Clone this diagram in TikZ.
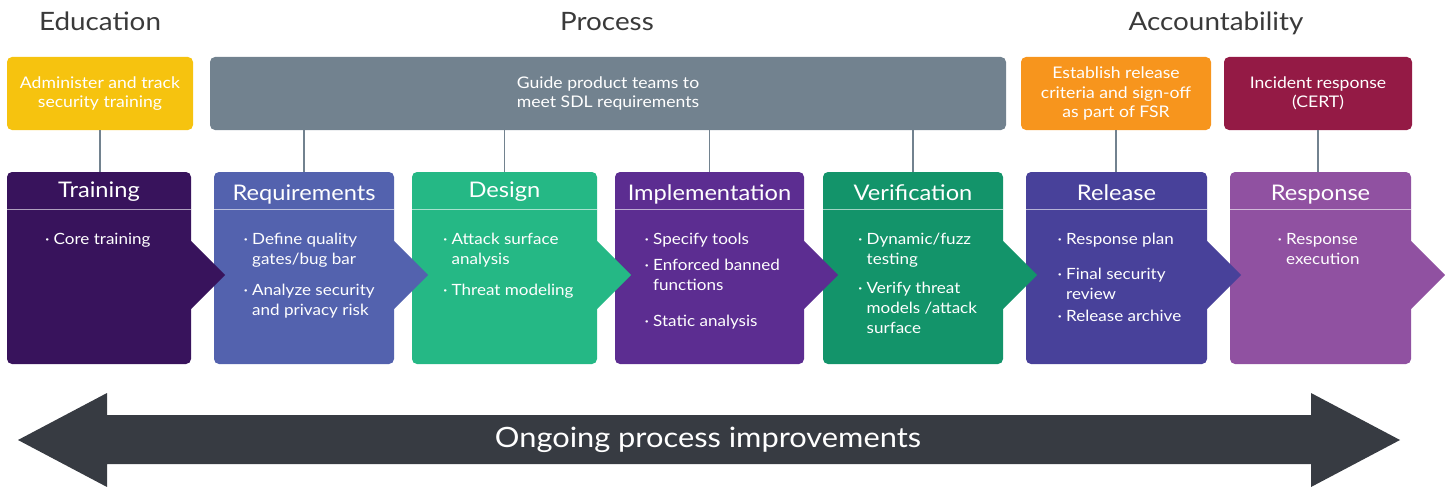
\documentclass[tikz,border=0pt]{standalone}
\usepackage{fontspec}
\setmainfont{Lato}[FakeStretch=1.1]
\definecolor{cYellow}{HTML}{F6C30F}
\definecolor{cGray}{HTML}{72828F}
\definecolor{cOrange}{HTML}{F7951D}
\definecolor{cRed}{HTML}{941A45}
\definecolor{cTrain}{HTML}{38135C}
\definecolor{cReq}{HTML}{5362AE}
\definecolor{cDesign}{HTML}{25B885}
\definecolor{cImpl}{HTML}{5C2D91}
\definecolor{cVerif}{HTML}{13946A}
\definecolor{cRel}{HTML}{48419A}
\definecolor{cResp}{HTML}{9051A1}
\definecolor{cArrow}{HTML}{373B42}
\definecolor{cTitle}{HTML}{3A3A3A}
\tikzset{
  topbox/.style={rectangle, rounded corners=5pt, inner sep=0pt, minimum height=73pt,
    text=white, align=center, font=\fontsize{16}{19.5}\selectfont},
  phasebox/.style={rectangle, rounded corners=5pt, inner sep=0pt, minimum height=192pt},
  conn/.style={draw=cGray, line width=1.4pt},
  divider/.style={draw=white, draw opacity=0.6, line width=1pt},
  title/.style={text=cTitle, font=\fontsize{25.3}{28}\selectfont, anchor=base},
  phasetitle/.style={text=white, font=\fontsize{21.5}{26}\selectfont, anchor=base},
  bodytxt/.style={text=white, font=\fontsize{15.5}{20}\selectfont, anchor=base west, inner sep=0pt},
}
\newcommand{\itm}[1]{\parbox[t]{150pt}{\hangindent=8.5pt\hangafter=1\relax\makebox[8.5pt][l]{·}#1}}
\begin{document}
\begin{tikzpicture}[x=1pt,y=-1pt]
\useasboundingbox (0,0) rectangle (1445,487);

% titles
\node[title] (tEdu) at (100,31) {Education};
\node[title] (tProc) at (607,31) {Process};
\node[title] (tAcc) at (1216,31) {Accountability};

% top boxes
\node[topbox, fill=cYellow, minimum width=186pt] (yel) at (100,93.5) {Administer and track\\security training};
\node[topbox, fill=cGray, minimum width=796pt] (gry) at (608,93.5) {Guide product teams to\\meet SDL requirements};
\node[topbox, fill=cOrange, minimum width=190pt] (org) at (1116,93.5) {Establish release\\criteria and sign-off\\as part of FSR};
\node[topbox, fill=cRed, minimum width=188pt] (red) at (1318,93.5) {Incident response\\(CERT)};

% phase boxes (right to left so chevrons overlay next box)
\node[phasebox, fill=cResp, minimum width=181pt] (resp) at (1320.5,268) {};
\fill[cResp] (1405,241) -- (1411,241) -- (1445,275) -- (1411,309) -- (1405,309) -- cycle;
\node[phasebox, fill=cRel, minimum width=181pt] (rel) at (1116.5,268) {};
\fill[cRel] (1201,241) -- (1207,241) -- (1241,275) -- (1207,309) -- (1201,309) -- cycle;
\node[phasebox, fill=cVerif, minimum width=180pt] (ver) at (913,268) {};
\fill[cVerif] (997,241) -- (1003,241) -- (1037,275) -- (1003,309) -- (997,309) -- cycle;
\node[phasebox, fill=cImpl, minimum width=189pt] (imp) at (709.5,268) {};
\fill[cImpl] (798,241) -- (804,241) -- (838,275) -- (804,309) -- (798,309) -- cycle;
\node[phasebox, fill=cDesign, minimum width=185pt] (des) at (504.5,268) {};
\fill[cDesign] (591,241) -- (597,241) -- (631,275) -- (597,309) -- (591,309) -- cycle;
\node[phasebox, fill=cReq, minimum width=180pt] (req) at (304,268) {};
\fill[cReq] (388,241) -- (394,241) -- (428,275) -- (394,309) -- (388,309) -- cycle;
\node[phasebox, fill=cTrain, minimum width=184pt] (trn) at (99,268) {};
\fill[cTrain] (185,241) -- (191,241) -- (225,275) -- (191,309) -- (185,309) -- cycle;

% dividers
\foreach \n in {trn,req,des,imp,ver,rel,resp}{
  \draw[divider] (\n.west |- 0,209) -- (\n.east |- 0,209);
}

% connectors
\draw[conn] (yel.south) -- (yel.south |- trn.north);
\draw[conn] (req.north |- gry.south) -- (req.north);
\draw[conn] (des.north |- gry.south) -- (des.north);
\draw[conn] (imp.north |- gry.south) -- (imp.north);
\draw[conn] (ver.north |- gry.south) -- (ver.north);
\draw[conn] (org.south) -- (org.south |- rel.north);
\draw[conn] (red.south) -- (red.south |- resp.north);

% phase titles
\node[phasetitle] (hTrn) at (99,197) {Training};
\node[phasetitle] (hReq) at (304,200) {Requirements};
\node[phasetitle] (hDes) at (504.5,197) {Design};
\node[phasetitle] (hImp) at (709.5,200) {Implementation};
\node[phasetitle] (hVer) at (913,200) {Verification};
\node[phasetitle] (hRel) at (1116.5,200) {Release};
\node[phasetitle] (hResp) at (1320.5,200) {Response};

% body texts
\node[bodytxt] (b1) at (45,244) {\itm{Core training}};
\node[bodytxt] (b2) at (243.5,244) {\itm{Define quality\\gates/bug bar}};
\node[bodytxt] (b3) at (243.5,295) {\itm{Analyze security\\and privacy risk}};
\node[bodytxt] (b4) at (443,244) {\itm{Attack surface\\analysis}};
\node[bodytxt] (b5) at (443,295) {\itm{Threat modeling}};
\node[bodytxt] (b6) at (644.5,244) {\itm{Specify tools}};
\node[bodytxt] (b7) at (644.5,270) {\itm{Enforced banned\\functions}};
\node[bodytxt] (b8) at (644.5,326) {\itm{Static analysis}};
\node[bodytxt] (b9) at (858,244) {\itm{Dynamic/fuzz\\testing}};
\node[bodytxt] (b10) at (858,293) {\itm{Verify threat\\models /attack\\surface}};
\node[bodytxt] (b11) at (1057.5,244) {\itm{Response plan}};
\node[bodytxt] (b12) at (1057.5,279) {\itm{Final security\\review}};
\node[bodytxt] (b13) at (1057.5,321) {\itm{Release archive}};
\node[bodytxt] (b14) at (1277.5,244) {\itm{Response\\execution}};

% bottom double arrow
\fill[cArrow] (18,440) -- (107,393) -- (107,415) -- (1311,415) -- (1311,393) -- (1400,440)
  -- (1311,487) -- (1311,464) -- (107,464) -- (107,487) -- cycle;
\node[text=white, font=\fontsize{28}{32}\selectfont] (ongoing) at (708,440) {Ongoing process improvements};
\end{tikzpicture}
\end{document}
